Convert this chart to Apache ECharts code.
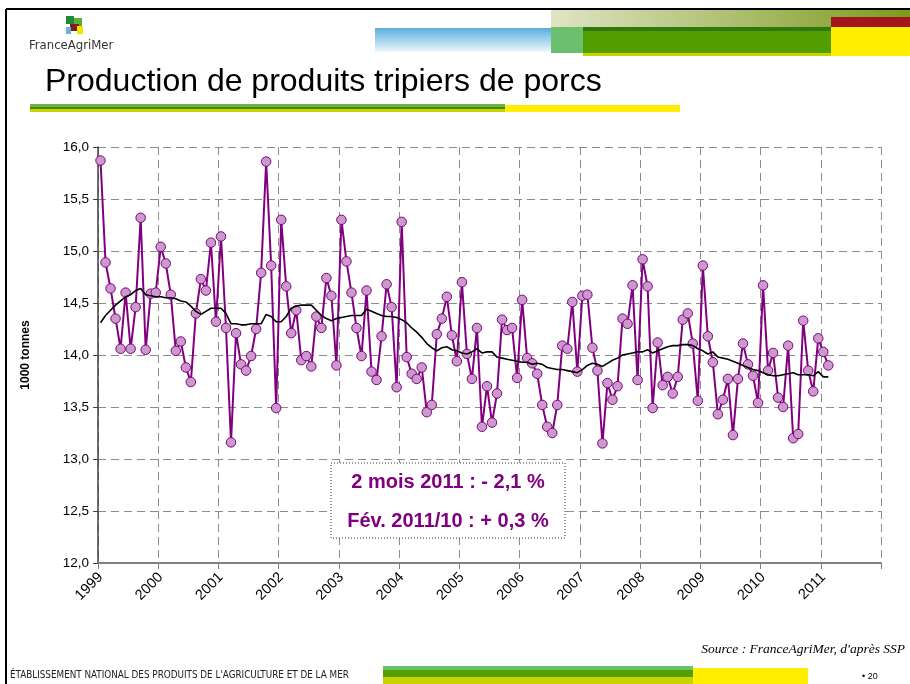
<!DOCTYPE html>
<html>
<head>
<meta charset="utf-8">
<script src="https://cdn.jsdelivr.net/npm/echarts@6/dist/echarts.min.js"></script>
<style>
  html, body { margin: 0; padding: 0; background: #fff; }
  #chart { width: 910px; height: 684px; }
</style>
</head>
<body>
<div id="chart"></div>
<script>
// tick labels (one per year, Jan of each)
const years = ['1999','2000','2001','2002','2003','2004','2005','2006','2007','2008','2009','2010','2011'];

// production mensuelle, janv. 1999 -> fév. 2011 (1000 t)
const production = [
  15.87, 14.89, 14.64, 14.35, 14.06, 14.60, 14.06, 14.46, 15.32, 14.05, 14.59, 14.60,
  15.04, 14.88, 14.58, 14.04, 14.13, 13.88, 13.74, 14.40, 14.73, 14.62, 15.08, 14.32,
  15.14, 14.26, 13.16, 14.21, 13.91, 13.85, 13.99, 14.25, 14.79, 15.86, 14.86, 13.49,
  15.30, 14.66, 14.21, 14.43, 13.95, 13.99, 13.89, 14.37, 14.26, 14.74, 14.57, 13.90,
  15.30, 14.90, 14.60, 14.26, 13.99, 14.62, 13.84, 13.76, 14.18, 14.68, 14.46, 13.69,
  15.28, 13.98, 13.82, 13.77, 13.88, 13.45, 13.52, 14.20, 14.35, 14.56, 14.19, 13.94,
  14.70, 14.01, 13.77, 14.26, 13.31, 13.70, 13.35, 13.63, 14.34, 14.24, 14.26, 13.78,
  14.53, 13.97, 13.92, 13.82, 13.52, 13.31, 13.25, 13.52, 14.09, 14.06, 14.51, 13.84,
  14.57, 14.58, 14.07, 13.85, 13.15, 13.73, 13.57, 13.70, 14.35, 14.30, 14.67, 13.76,
  14.92, 14.66, 13.49, 14.12, 13.71, 13.79, 13.63, 13.79, 14.34, 14.40, 14.11, 13.56,
  14.86, 14.18, 13.93, 13.43, 13.57, 13.77, 13.23, 13.77, 14.11, 13.91, 13.80, 13.54,
  14.67, 13.85, 14.02, 13.59, 13.50, 14.09, 13.20, 13.24, 14.33, 13.85, 13.65, 14.16,
  14.03, 13.90
];

// moyenne mobile 12 mois (courbe noire)
const moyenneMobile = [
  14.31, 14.38, 14.43, 14.48, 14.52, 14.56, 14.58, 14.62, 14.64, 14.58, 14.57, 14.56,
  14.56, 14.55, 14.55, 14.54, 14.52, 14.51, 14.47, 14.42, 14.39, 14.42, 14.45, 14.45,
  14.45, 14.40, 14.30, 14.30, 14.29, 14.29, 14.30, 14.30, 14.30, 14.39, 14.37, 14.32,
  14.32, 14.37, 14.45, 14.47, 14.48, 14.48, 14.48, 14.43, 14.38, 14.35, 14.33, 14.35,
  14.36, 14.37, 14.38, 14.38, 14.38, 14.44, 14.42, 14.40, 14.38, 14.37, 14.37, 14.36,
  14.34, 14.31, 14.26, 14.22, 14.17, 14.11, 14.07, 14.04, 14.07, 14.08, 14.05, 14.04,
  14.02, 14.01, 14.03, 14.06, 14.02, 14.03, 14.03, 13.98, 13.97, 13.96, 13.95, 13.94,
  13.93, 13.93, 13.91, 13.92, 13.91, 13.88, 13.87, 13.86, 13.86, 13.85, 13.84, 13.83,
  13.86, 13.90, 13.92, 13.91, 13.89, 13.92, 13.95, 13.97, 14.00, 14.01, 14.02, 14.03,
  14.03, 14.05, 14.02, 14.04, 14.06, 14.08, 14.09, 14.09, 14.10, 14.10, 14.09, 14.06,
  14.04, 14.01, 14.03, 13.98, 13.97, 13.96, 13.94, 13.92, 13.90, 13.88, 13.86, 13.85,
  13.83, 13.81, 13.80, 13.80, 13.81, 13.82, 13.83, 13.81, 13.81, 13.81, 13.80, 13.84,
  13.79, 13.79
];

// une catégorie par mois, 1999 -> 2011
const months = [];
years.forEach(y => {
  for (let m = 1; m <= 12; m++) months.push(y + '-' + (m < 10 ? '0' + m : m));
});

const chart = echarts.init(document.getElementById('chart'), null, { renderer: 'canvas' });

const purple = '#800080';
const gridColor = '#8c8c8c';
const arial = '"Liberation Sans", Arial, sans-serif';

chart.setOption({
  animation: false,
  backgroundColor: '#fff',
  textStyle: { fontFamily: arial },
  grid: { left: 98, top: 147, right: 29, bottom: 121, containLabel: false },
  xAxis: {
    type: 'category',
    data: months,
    boundaryGap: true,
    axisLine: { show: true, lineStyle: { color: '#808080', width: 2 } },
    axisTick: { show: true, interval: 11, length: 6, lineStyle: { color: '#808080' } },
    axisLabel: {
      interval: 11,
      rotate: 45,
      margin: 12,
      fontSize: 14.5,
      fontFamily: arial,
      color: '#000',
      formatter: v => v.slice(0, 4)
    },
    splitLine: { show: true, interval: 11, lineStyle: { color: gridColor, type: [8, 5], width: 1 } }
  },
  yAxis: {
    type: 'value',
    min: 12,
    max: 16,
    interval: 0.5,
    name: '1000 tonnes',
    nameLocation: 'middle',
    nameRotate: 90,
    nameGap: 66,
    nameTextStyle: { fontSize: 12, fontWeight: 'bold', color: '#000', fontFamily: arial },
    axisLine: { show: true, lineStyle: { color: '#404040', width: 1.5 } },
    axisTick: { show: true, length: 5, lineStyle: { color: '#404040' } },
    axisLabel: {
      fontSize: 13.5,
      fontFamily: arial,
      color: '#000',
      margin: 9,
      formatter: v => v.toFixed(1).replace('.', ',')
    },
    splitLine: { show: true, lineStyle: { color: gridColor, type: [8, 5], width: 1 } }
  },
  series: [
    {
      name: 'Production',
      type: 'line',
      data: production,
      symbol: 'circle',
      symbolSize: 9.5,
      showAllSymbol: true,
      lineStyle: { color: purple, width: 2 },
      itemStyle: { color: '#cc99cc', borderColor: purple, borderWidth: 1 },
      z: 3
    },
    {
      name: 'Moyenne mobile',
      type: 'line',
      data: moyenneMobile,
      symbol: 'none',
      lineStyle: { color: '#000', width: 1.6 },
      z: 4
    }
  ],
  graphic: [
    // cadre
    { type: 'line', shape: { x1: 6, y1: 9, x2: 910, y2: 9 }, style: { stroke: '#000', lineWidth: 2 } },
    { type: 'line', shape: { x1: 6, y1: 9, x2: 6, y2: 684 }, style: { stroke: '#000', lineWidth: 2 } },
    // bandeau haut
    { type: 'rect', shape: { x: 375, y: 28, width: 176, height: 24 },
      style: { fill: new echarts.graphic.LinearGradient(0, 0, 0, 1, [
        { offset: 0, color: '#5aaee0' }, { offset: 1, color: '#eef7fc' }]) } },
    { type: 'rect', shape: { x: 551, y: 10, width: 359, height: 17 },
      style: { fill: new echarts.graphic.LinearGradient(0, 0, 1, 0, [
        { offset: 0, color: '#dfe5c4' }, { offset: 1, color: '#7d9a1c' }]) } },
    { type: 'rect', shape: { x: 551, y: 27, width: 32, height: 26 }, style: { fill: '#6cbf6c' } },
    { type: 'rect', shape: { x: 583, y: 27, width: 248, height: 4 }, style: { fill: '#2f7a10' } },
    { type: 'rect', shape: { x: 583, y: 31, width: 248, height: 22 }, style: { fill: '#529e00' } },
    { type: 'rect', shape: { x: 583, y: 53, width: 248, height: 3 }, style: { fill: '#c8d400' } },
    { type: 'rect', shape: { x: 831, y: 17, width: 79, height: 10 }, style: { fill: '#a0161b' } },
    { type: 'rect', shape: { x: 831, y: 27, width: 79, height: 29 }, style: { fill: '#ffee00' } },
    // logo
    { type: 'rect', shape: { x: 66, y: 16, width: 8, height: 8 }, style: { fill: '#1f8a3a' } },
    { type: 'rect', shape: { x: 74, y: 18, width: 8, height: 8 }, style: { fill: '#5cb030' } },
    { type: 'rect', shape: { x: 70, y: 24, width: 9, height: 7 }, style: { fill: '#8a1a1a' } },
    { type: 'rect', shape: { x: 77, y: 26, width: 6, height: 8 }, style: { fill: '#f2e400' } },
    { type: 'rect', shape: { x: 66, y: 27, width: 5, height: 7 }, style: { fill: '#6ab4e0' } },
    { type: 'text', left: 29, top: 39,
      style: { text: 'FranceAgriMer', font: '13px "DejaVu Sans Condensed", "Liberation Sans Narrow", sans-serif', fill: '#333' } },
    // titre
    { type: 'text', left: 45, top: 66,
      style: { text: 'Production de produits tripiers de porcs', font: '32px "Liberation Sans", Arial, sans-serif', fill: '#000' } },
    { type: 'rect', shape: { x: 30, y: 104, width: 475, height: 3 }, style: { fill: '#6cb33f' } },
    { type: 'rect', shape: { x: 30, y: 107, width: 475, height: 2 }, style: { fill: '#3f8a00' } },
    { type: 'rect', shape: { x: 30, y: 109, width: 475, height: 3 }, style: { fill: '#c8d400' } },
    { type: 'rect', shape: { x: 505, y: 105, width: 175, height: 7 }, style: { fill: '#ffee00' } },
    // encadré
    { type: 'rect', shape: { x: 331, y: 463, width: 234, height: 75 },
      style: { fill: '#fff', stroke: '#333', lineWidth: 1, lineDash: [1, 2] }, z: 10 },
    { type: 'text', x: 448, y: 482, z: 11,
      style: { text: '2 mois 2011 : - 2,1 %', textAlign: 'center', textVerticalAlign: 'middle',
        font: 'bold 20px "Liberation Sans", Arial, sans-serif', fill: purple } },
    { type: 'text', x: 448, y: 521, z: 11,
      style: { text: 'Fév. 2011/10 : + 0,3 %', textAlign: 'center', textVerticalAlign: 'middle',
        font: 'bold 20px "Liberation Sans", Arial, sans-serif', fill: purple } },
    // source
    { type: 'text', right: 5, top: 642,
      style: { text: "Source : FranceAgriMer, d'après SSP", font: 'italic 13.5px "Liberation Serif", "Times New Roman", serif', fill: '#000' } },
    // pied de page
    { type: 'text', left: 10, top: 670,
      style: { text: "ÉTABLISSEMENT NATIONAL DES PRODUITS DE L'AGRICULTURE ET DE LA MER", font: '9.8px "DejaVu Sans Condensed", sans-serif', fill: '#222' } },
    { type: 'rect', shape: { x: 383, y: 666, width: 310, height: 4 }, style: { fill: '#6cbf6c' } },
    { type: 'rect', shape: { x: 383, y: 670, width: 310, height: 7 }, style: { fill: '#529e00' } },
    { type: 'rect', shape: { x: 383, y: 677, width: 310, height: 7 }, style: { fill: '#c8d400' } },
    { type: 'rect', shape: { x: 693, y: 668, width: 115, height: 16 }, style: { fill: '#ffee00' } },
    { type: 'text', left: 862, top: 672,
      style: { text: '• 20', font: '9px "Liberation Sans", Arial, sans-serif', fill: '#000' } }
  ]
});
</script>
</body>
</html>
